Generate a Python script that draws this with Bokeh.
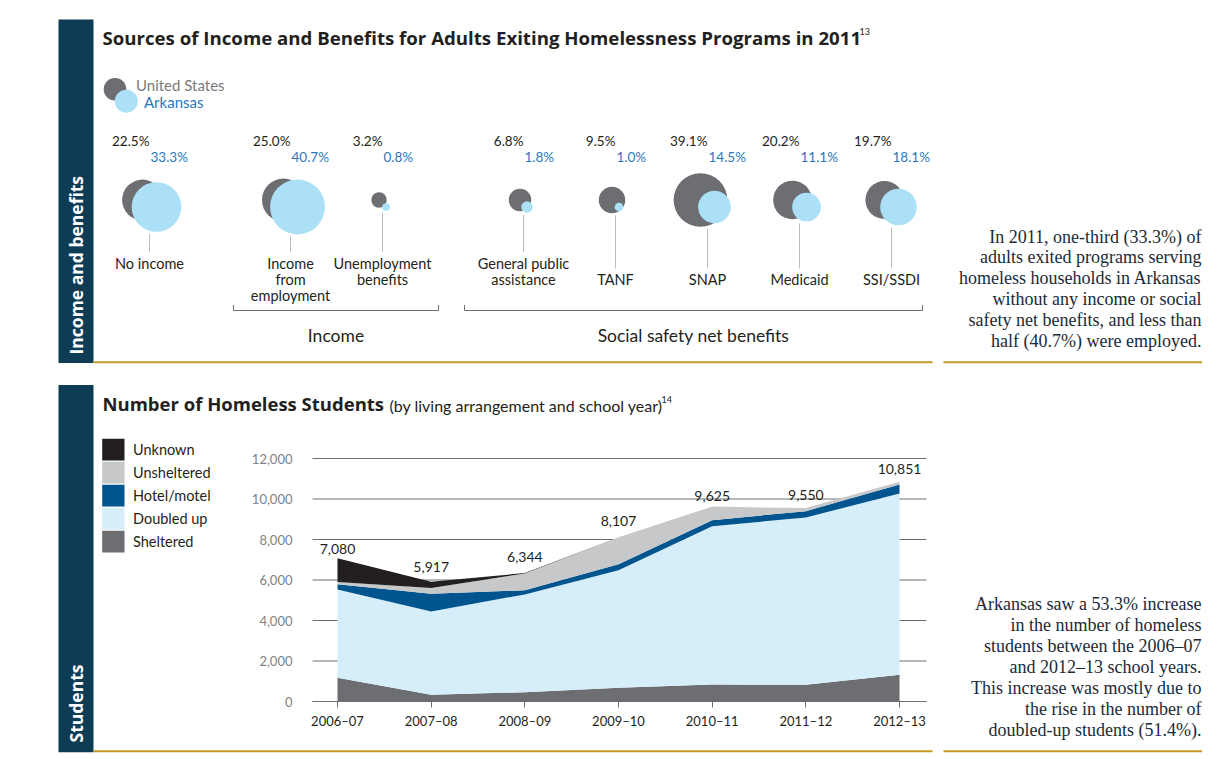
import numpy as np
from bokeh.plotting import figure
from bokeh.models import Range1d, ColumnDataSource, FixedTicker, NumeralTickFormatter, LinearAxis
from bokeh.core.properties import value
from bokeh.embed import file_html
from bokeh.resources import INLINE

# ---------------- data ----------------
categories = ["No income", "Income from employment", "Unemployment benefits",
              "General public assistance", "TANF", "SNAP", "Medicaid", "SSI/SSDI"]
category_lines = [["No income"], ["Income", "from", "employment"], ["Unemployment", "benefits"],
                  ["General public", "assistance"], ["TANF"], ["SNAP"], ["Medicaid"], ["SSI/SSDI"]]
category_group = [0, 1, 1, 2, 2, 2, 2, 2]
us_pct = [22.5, 25.0, 3.2, 6.8, 9.5, 39.1, 20.2, 19.7]
ar_pct = [33.3, 40.7, 0.8, 1.8, 1.0, 14.5, 11.1, 18.1]
group_names = ["Income", "Social safety net benefits"]

school_years = ["2006–07", "2007–08", "2008–09", "2009–10", "2010–11", "2011–12", "2012–13"]
sheltered = [1170, 330, 460, 675, 840, 825, 1320]
doubled_up = [4355, 4120, 4830, 5805, 7815, 8260, 8955]
hotel_motel = [265, 875, 200, 295, 300, 315, 445]
unsheltered = [115, 280, 834, 1332, 670, 150, 131]
unknown = [1175, 312, 20, 0, 0, 0, 0]
y_ticks = [0, 2000, 4000, 6000, 8000, 10000, 12000]

text1 = ["In 2011, one-third (33.3%) of", "adults exited programs serving",
         "homeless households in Arkansas", "without any income or social",
         "safety net benefits, and less than", "half (40.7%) were employed."]
text2 = ["Arkansas saw a 53.3% increase", "in the number of homeless",
         "students between the 2006–07", "and 2012–13 school years.",
         "This increase was mostly due to", "the rise in the number of",
         "doubled-up students (51.4%)."]

# ---------------- styles ----------------
NAVY = "#0e3c55"
GOLD = "#c49b25"
DARK = "#231f20"
US_C = "#6d6e71"
AR_C = "#abe0f6"
AR_TXT = "#2a78bd"
SANS = value("Lato")
BOLD = value("Open Sans")
SERIF = value("Liberation Serif")

W, H = 1231, 759
p = figure(width=W, height=H, x_range=Range1d(0, W), y_range=Range1d(H, 0),
           output_backend="svg", toolbar_location=None, tools="",
           min_border=0, x_axis_location=None, y_axis_location=None)
p.outline_line_color = None
p.grid.visible = False

# area-chart geometry (screen layout)
CH_X0, CH_X1 = 312, 926          # extent of chart grid lines
X_FIRST, X_STEP = 337, 93.67     # first category position, spacing
Y_ZERO, PX_PER_UNIT = 701, 243 / 12000
p.extra_x_ranges = {"yr": Range1d((0 - X_FIRST) / X_STEP, (W - X_FIRST) / X_STEP)}
p.extra_y_ranges = {"cnt": Range1d((Y_ZERO - H) / PX_PER_UNIT, Y_ZERO / PX_PER_UNIT)}
x_lo = (CH_X0 - X_FIRST) / X_STEP
x_hi = (CH_X1 - X_FIRST) / X_STEP


def side_bar(y0, y1):
    p.quad(left=58, right=93, top=y0, bottom=y1, fill_color=NAVY, line_color=None)


def gold_rules(y):
    p.quad(left=[93, 943], right=[932, 1201.5], top=[y - 1, y - 1], bottom=[y + 1, y + 1],
           fill_color=GOLD, line_color=None)


# ================= section 1: bubbles =================
side_bar(19, 362.5)
p.text(x=[75.5], y=[354], text=["Income and benefits"], angle=np.pi / 2,
       text_font=BOLD, text_font_style="bold", text_font_size="17.5px",
       text_color="white", text_align="left", text_baseline="middle")
p.text(x=[102], y=[37], text=["Sources of Income and Benefits for Adults Exiting Homelessness Programs in 2011"],
       text_font=BOLD, text_font_style="bold", text_font_size="18.65px",
       text_color=DARK, text_align="left", text_baseline="middle")
p.text(x=[859], y=[31], text=["13"], text_font=SANS, text_font_size="9px",
       text_color=DARK, text_align="left", text_baseline="middle")

# legend
p.circle(x=[114.5], y=[88.7], radius=11.3, fill_color=US_C, line_color=None)
p.circle(x=[125.8], y=[100.7], radius=11.5, fill_color=AR_C, line_color=None)
p.text(x=[135.5], y=[84], text=["United States"], text_font=SANS, text_font_size="15px",
       text_color="#7a7a7e", text_baseline="middle")
p.text(x=[143.5], y=[101], text=["Arkansas"], text_font=SANS, text_font_size="15px",
       text_color=AR_TXT, text_baseline="middle")

k = 4.3
n = len(categories)
cx = [149 + 92 * i + 49 * category_group[i] for i in range(n)]
r_us = [k * np.sqrt(v) for v in us_pct]
r_ar = [k * np.sqrt(v) for v in ar_pct]
d = [14 if r > 10 else 7 for r in r_ar]
us_y, ar_y = 199.5, 206.5
first_row = [0 if len(category_lines[i]) > 1 or category_group[i] < 2 else 1 for i in range(n)]

bub = ColumnDataSource(dict(
    xu=[cx[i] - d[i] / 2 for i in range(n)], xa=[cx[i] + d[i] / 2 for i in range(n)],
    yu=[us_y] * n, ya=[ar_y] * n, ru=r_us, ra=r_ar))
p.circle(x="xu", y="yu", radius="ru", source=bub, fill_color=US_C, line_color=None)
p.circle(x="xa", y="ya", radius="ra", source=bub, fill_color=AR_C, line_color=None)

stem_top = [max(us_y + r_us[i], ar_y + r_ar[i]) + 2 for i in range(n)]
stem_bot = [251.5 if first_row[i] == 0 else 268 for i in range(n)]
p.segment(x0=cx, y0=stem_top, x1=cx, y1=stem_bot, line_color="#bcbec0", line_width=1)

p.text(x=cx, y=[140] * n, text=[f"{v:.1f}%" for v in us_pct], text_font=SANS,
       text_font_size="13.5px", text_color=DARK, text_align="right", text_baseline="middle")
p.text(x=[c + 1 for c in cx], y=[156] * n, text=[f"{v:.1f}%" for v in ar_pct], text_font=SANS,
       text_font_size="13.5px", text_color=AR_TXT, text_align="left", text_baseline="middle")

lx, ly, lt = [], [], []
for i in range(n):
    for j, line in enumerate(category_lines[i]):
        lx.append(cx[i])
        ly.append(263 + 16 * (first_row[i] + j))
        lt.append(line)
p.text(x=lx, y=ly, text=lt, text_font=SANS, text_font_size="14.5px", text_color=DARK,
       text_align="center", text_baseline="middle")

bracket_pad = [(57, 56), (59, 31)]
for g, name in enumerate(group_names):
    members = [cx[i] for i in range(n) if category_group[i] == g + 1]
    x0 = min(members) - bracket_pad[g][0]
    x1 = max(members) + bracket_pad[g][1]
    p.line(x=[x0, x0, x1, x1], y=[304.5, 310, 310, 304.5], line_color="#6d6e71", line_width=1)
    p.text(x=[(x0 + x1) / 2], y=[335], text=[name], text_font=SANS, text_font_size="17.5px",
           text_color=DARK, text_align="center", text_baseline="middle")

gold_rules(361.8)
p.text(x=[1201] * len(text1), y=[236 + 20.8 * i for i in range(len(text1))], text=text1,
       text_font=SERIF, text_font_size="18px", text_color="#1b2a38",
       text_align="right", text_baseline="alphabetic")

# ================= section 2: students =================
side_bar(384.5, 751.8)
p.text(x=[75.5], y=[742], text=["Students"], angle=np.pi / 2, text_font=BOLD,
       text_font_style="bold", text_font_size="17.5px", text_color="white",
       text_align="left", text_baseline="middle")
p.text(x=[102], y=[403], text=["Number of Homeless Students"], text_font=BOLD,
       text_font_style="bold", text_font_size="18.5px", text_color=DARK,
       text_align="left", text_baseline="middle")
p.text(x=[389], y=[404.5], text=["(by living arrangement and school year)"], text_font=SANS,
       text_font_size="16px", text_color=DARK, text_align="left", text_baseline="middle")
p.text(x=[661], y=[399], text=["14"], text_font=SANS, text_font_size="9px",
       text_color=DARK, text_align="left", text_baseline="middle")

series_names = ["Sheltered", "Doubled up", "Hotel/motel", "Unsheltered", "Unknown"]
series_colors = ["#6d6e71", "#d6eef9", "#00558f", "#c7c8ca", "#231f20"]
leg_names = series_names[::-1]
leg_cols = series_colors[::-1]
sq_top = [438.3 + 23 * i for i in range(len(leg_names))]
p.quad(left=101.7, right=124, top=sq_top, bottom=[t + 21.7 for t in sq_top],
       fill_color=leg_cols, line_color=None)
p.text(x=[132.5] * len(leg_names), y=[t + 11 for t in sq_top], text=leg_names,
       text_font=SANS, text_font_size="14.5px", text_color=DARK, text_baseline="middle")

# area chart (own scales through extra ranges)
xs = list(range(len(school_years)))
totals = [sheltered[i] + doubled_up[i] + hotel_motel[i] + unsheltered[i] + unknown[i] for i in xs]
src = ColumnDataSource(dict(x=xs, sheltered=sheltered, doubled=doubled_up, hotel=hotel_motel,
                            unsheltered=unsheltered, unknown=unknown))
p.segment(x0=[x_lo] * len(y_ticks), x1=[x_hi] * len(y_ticks), y0=y_ticks, y1=y_ticks,
          line_color="#6d6e71", line_width=1, x_range_name="yr", y_range_name="cnt")
p.varea_stack(stackers=["sheltered", "doubled", "hotel", "unsheltered", "unknown"], x="x",
              color=series_colors, source=src, x_range_name="yr", y_range_name="cnt")

yax = LinearAxis(x_range_name="yr", y_range_name="cnt", fixed_location=x_lo,
                 ticker=FixedTicker(ticks=y_ticks), formatter=NumeralTickFormatter(format="0,0"))
yax.axis_line_color = None
yax.major_tick_line_color = None
yax.minor_tick_line_color = None
yax.major_label_standoff = 14
yax.major_label_text_font = "Lato"
yax.major_label_text_font_size = "13px"
yax.major_label_text_color = "#808285"
p.add_layout(yax, "left")

xax = LinearAxis(x_range_name="yr", y_range_name="cnt", fixed_location=0,
                 ticker=FixedTicker(ticks=xs), bounds=(x_lo, x_hi))
xax.major_label_overrides = {i: s for i, s in enumerate(school_years)}
xax.axis_line_color = "#6d6e71"
xax.major_tick_line_color = "#6d6e71"
xax.major_tick_out = 6
xax.major_tick_in = 0
xax.minor_tick_line_color = None
xax.major_label_standoff = 5
xax.major_label_text_font = "Lato"
xax.major_label_text_font_size = "13px"
xax.major_label_text_color = DARK
p.add_layout(xax, "below")

lab = ColumnDataSource(dict(x=xs, y=totals, t=[f"{v:,}" for v in totals],
                            yo=[-9, -15, -16, -16, -11, -13, -13]))
p.text(x="x", y="y", text="t", y_offset="yo", source=lab,
       text_font=SANS, text_font_size="14px", text_color=DARK,
       text_align="center", text_baseline="alphabetic", x_range_name="yr", y_range_name="cnt")

gold_rules(750.8)
p.text(x=[1201] * len(text2), y=[603.3 + 21 * i for i in range(len(text2))], text=text2,
       text_font=SERIF, text_font_size="18px", text_color="#1b2a38",
       text_align="right", text_baseline="alphabetic")

open("out.html", "w").write(file_html(p, INLINE))
